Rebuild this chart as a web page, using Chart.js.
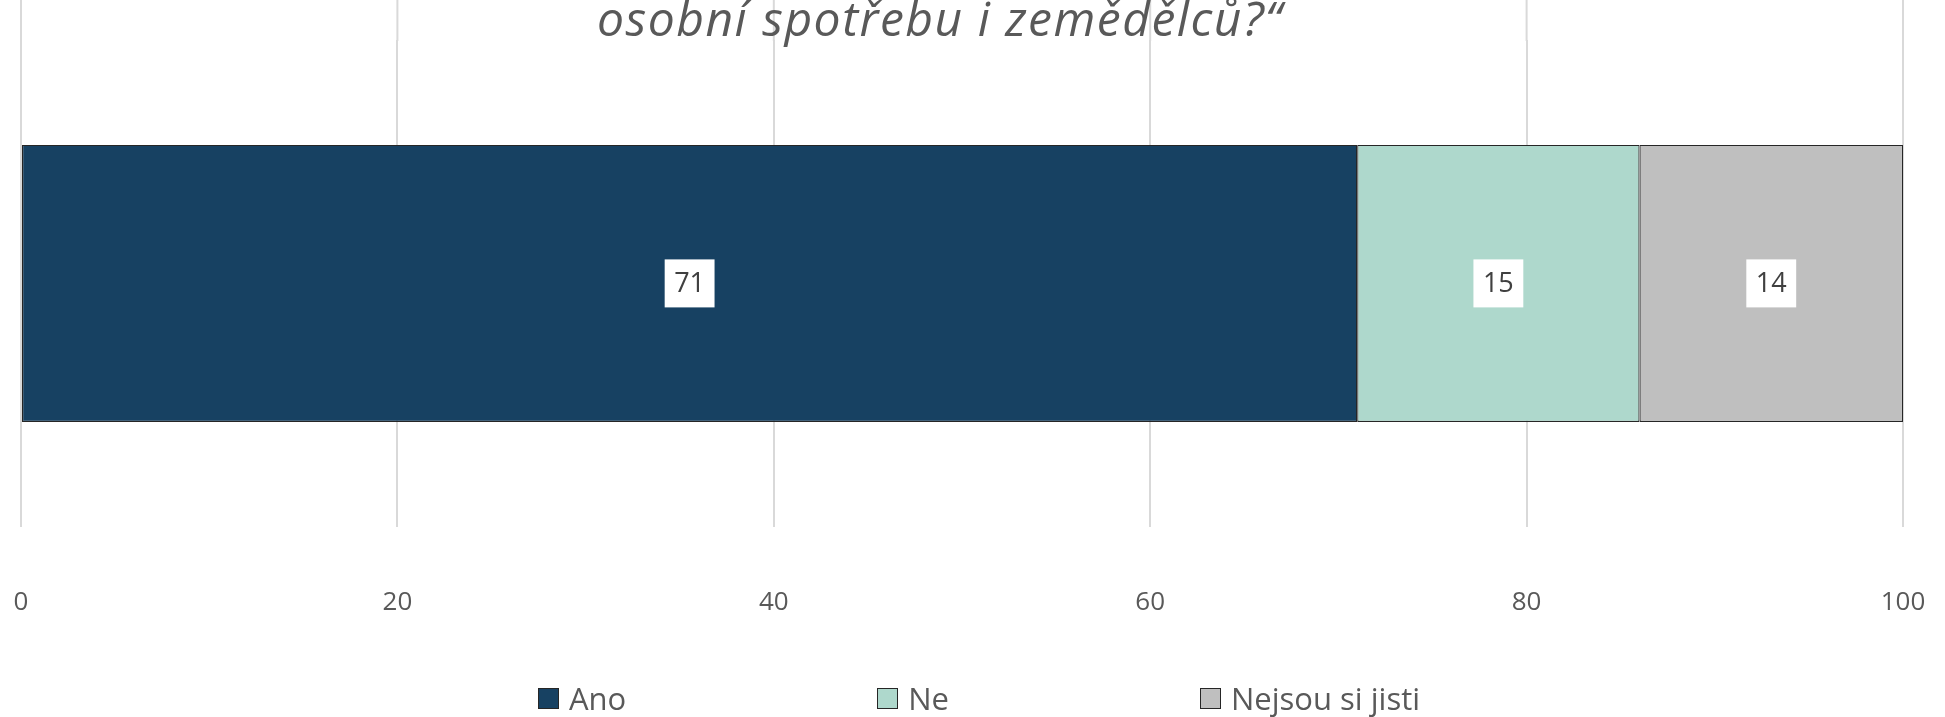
<!DOCTYPE html>
<html>
<head>
<meta charset="utf-8">
<script src="https://cdn.jsdelivr.net/npm/chart.js@4"></script>
<style>
    body { margin: 0; background: #fff; overflow: hidden; }
    .chart-box { position: relative; width: 1945px; height: 717px; }
    .chart-title {
        position: absolute; top: -6px; left: 0; width: 1880px;
        text-align: center; font: italic 48px 'Open Sans', sans-serif;
        letter-spacing: 1.5px;
        line-height: 1; color: #595959; pointer-events: none;
    }
    .chart-legend {
        position: absolute; top: 680px; left: 538px;
        display: flex; align-items: center; gap: 251px;
        font: 31px 'Open Sans', sans-serif; line-height: 1.2; color: #595959;
    }
    .chart-legend span.item { display: flex; align-items: center; }
    .chart-legend span.swatch {
        display: inline-block; width: 19px; height: 19px;
        border: 1px solid #262626; margin-right: 10px;
    }
</style>
</head>
<body>
<div class="chart-box">
    <canvas id="surveyChart"></canvas>
    <div class="chart-title">osobní spotřebu i zemědělců?“</div>
    <div class="chart-legend" id="surveyLegend"></div>
</div>
<script>
// Data
const categories = [''];
const seriesNames = ['Ano', 'Ne', 'Nejsou si jisti'];
const seriesValues = [71, 15, 14];
const tickValues = [0, 20, 40, 60, 80, 100];

const seriesColors = ['#174162', '#aed8cc', '#bfbfbf'];

// Draw value boxes in the middle of each bar segment
const valueBoxes = {
    id: 'valueBoxes',
    afterDatasetsDraw(chart) {
        const ctx = chart.ctx;
        ctx.save();
        ctx.font = '27px "Open Sans", sans-serif';
        ctx.textAlign = 'center';
        ctx.textBaseline = 'middle';
        chart.data.datasets.forEach((ds, i) => {
            const el = chart.getDatasetMeta(i).data[0];
            if (!el) return;
            const pos = el.getCenterPoint();
            const text = String(ds.data[0]);
            const w = ctx.measureText(text).width + 19;
            const h = 48;
            ctx.fillStyle = '#ffffff';
            ctx.fillRect(pos.x - w / 2, pos.y - h / 2, w, h);
            ctx.fillStyle = '#404040';
            ctx.fillText(text, pos.x, pos.y + 1);
        });
        ctx.restore();
    }
};

// Gridlines run up to the top edge, above the plot area
const gridToTop = {
    id: 'gridToTop',
    beforeDatasetsDraw(chart) {
        const ctx = chart.ctx;
        const x = chart.scales.x;
        ctx.save();
        ctx.strokeStyle = '#d9d9d9';
        ctx.lineWidth = 2;
        x.ticks.forEach((t, i) => {
            const px = x.getPixelForTick(i);
            ctx.beginPath();
            ctx.moveTo(px, 0);
            ctx.lineTo(px, chart.chartArea.top + 1);
            ctx.stroke();
        });
        ctx.restore();
    }
};

const ctx = document.getElementById('surveyChart');
window.surveyChart = new Chart(ctx, {
    type: 'bar',
    data: {
        labels: categories,
        datasets: seriesNames.map((name, i) => ({
            label: name,
            data: [seriesValues[i]],
            backgroundColor: seriesColors[i],
            borderColor: '#262626',
            borderWidth: 1.2,
            borderSkipped: false,
            categoryPercentage: 1,
            barPercentage: 0.569
        }))
    },
    options: {
        indexAxis: 'y',
        responsive: true,
        maintainAspectRatio: false,
        animation: false,
        layout: {
            padding: { top: 40, left: 21, right: 42, bottom: 99 }
        },
        plugins: {
            legend: { display: false },
            tooltip: { enabled: false }
        },
        scales: {
            x: {
                stacked: true,
                min: 0,
                max: 100,
                afterBuildTicks: function(scale) {
                    scale.ticks = tickValues.map(v => ({ value: v }));
                },
                border: { display: false },
                grid: {
                    color: '#d9d9d9',
                    lineWidth: 2,
                    drawTicks: true,
                    tickLength: 60,
                    tickColor: 'rgba(0,0,0,0)'
                },
                ticks: {
                    padding: 0,
                    color: '#595959',
                    font: { family: 'Open Sans', size: 26 },
                    maxRotation: 0
                }
            },
            y: {
                stacked: true,
                display: false
            }
        }
    },
    plugins: [gridToTop, valueBoxes]
});

// HTML legend built from the series
const legendEl = document.getElementById('surveyLegend');
seriesNames.forEach((name, i) => {
    const item = document.createElement('span');
    item.className = 'item';
    item.innerHTML = '<span class="swatch" style="background:' + seriesColors[i] + '"></span>' + name;
    legendEl.appendChild(item);
});
</script>
</body>
</html>
